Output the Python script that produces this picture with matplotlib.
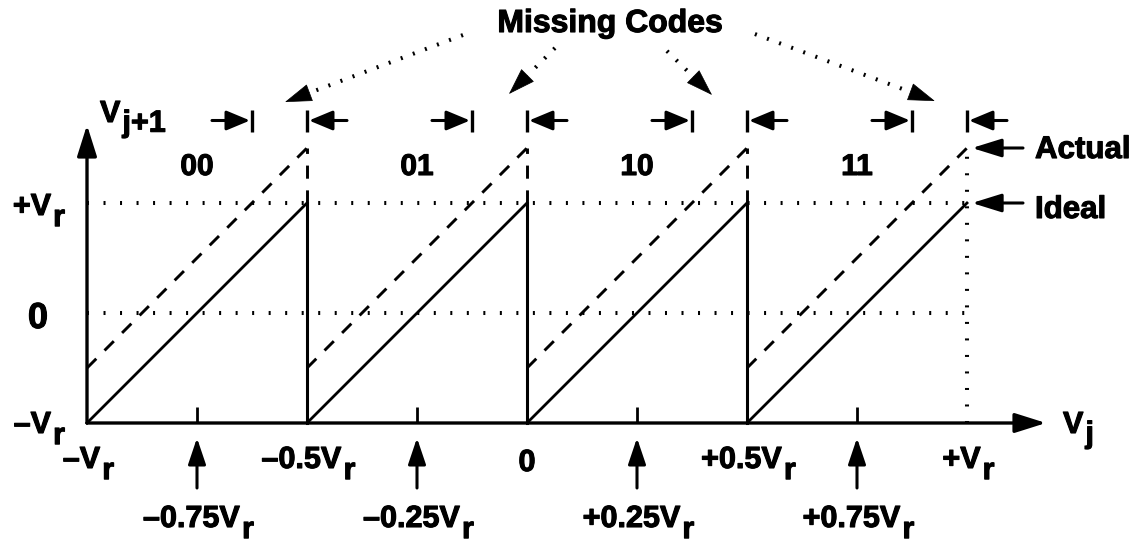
import math

import matplotlib
matplotlib.use("Agg")
import matplotlib.pyplot as plt
import matplotlib.patheffects as pe

# V_j segment boundaries (units of Vr) and the output code of each segment
edges = [-1.0, -0.5, 0.0, 0.5, 1.0]
codes = ["00", "01", "10", "11"]
# residue swing of the ideal stage and the offset of the actual stage
v_lo, v_hi = -1.0, 1.0
offset = 0.5
# segment midpoints, marked with arrows under the V_j axis
mids = [-0.75, -0.25, 0.25, 0.75]
mid_labels = ["\u20130.75V", "\u20130.25V", "+0.25V", "+0.75V"]
edge_labels = ["\u2013V", "\u20130.5V", "0", "+0.5V", "+V"]
edge_subs = ["r", "r", "", "r", "r"]

plt.rcParams["font.family"] = ["Liberation Sans", "DejaVu Sans"]
plt.rcParams["font.weight"] = "bold"

FS = 22
# slightly heavier glyphs than plain Liberation Sans Bold
HEAVY = [pe.withStroke(linewidth=0.8, foreground="black")]
# pixels per Vr along each axis
SX, SY = 440.0, 110.0

fig = plt.figure(figsize=(11.4, 5.45), dpi=100)
ax = fig.add_axes([0, 0, 1, 1])
ax.set_xlim(-1 - 87 / SX, -1 + 1053 / SX)
ax.set_ylim(-1 - 122 / SY, 1 + 203 / SY)
ax.axis("off")


def arrow(tail, tip, hl=0.8, hw=0.28, lw=2.2):
    ax.annotate("", xy=tip, xytext=tail,
                arrowprops=dict(arrowstyle=f"-|>,head_length={hl},head_width={hw}",
                                mutation_scale=20, lw=lw, color="black",
                                shrinkA=0, shrinkB=0))


def label(x, y, main, sub="", size=FS, ha="center", dx=0.0, drop=8.0):
    t = ax.annotate(main, (x, y), xytext=(dx, 0), textcoords="offset points",
                    ha=ha, va="baseline", fontsize=size, fontweight="bold",
                    path_effects=HEAVY)
    if sub:
        ax.annotate(sub, xy=(1, 0), xycoords=t, xytext=(1.5, -drop),
                    textcoords="offset points", ha="left", va="bottom",
                    fontsize=size, fontweight="bold", path_effects=HEAVY)


dots = dict(color="black", lw=2.9, dashes=(0.5, 3.6), dash_capstyle="butt", zorder=1)
dashed = dict(color="black", lw=2.1, dashes=(4.5, 4.0), dash_capstyle="butt")

# reference levels
ax.plot([v_lo, v_hi], [v_hi, v_hi], **dots)
ax.plot([v_lo, v_hi], [0, 0], **dots)
ax.plot([edges[-1], edges[-1]], [v_lo, v_hi + offset], **dots)

# axes
arrow((edges[0], v_lo), (edges[0], 1 + 78 / SY), hl=0.95, hw=0.3, lw=2.4)
arrow((edges[0], v_lo), (-1 + 959 / SX, v_lo), hl=0.95, hw=0.3, lw=2.4)

width = edges[1] - edges[0]
gap = offset * width / (v_hi - v_lo)
for i, code in enumerate(codes):
    e0, e1 = edges[i], edges[i + 1]
    # ideal and actual residue
    ax.plot([e0, e1], [v_lo, v_hi], color="black", lw=2.0)
    ax.plot([e0, e1], [v_lo + offset, v_hi + offset], **dashed)
    if i < len(codes) - 1:
        ax.plot([e1, e1], [v_lo, v_hi], color="black", lw=2.2)
        ax.plot([e1, e1], [v_hi, v_hi + offset], **dashed)
    label((e0 + e1) / 2, 1 + 28 / SY, code, size=21.5)

    # missing-code interval markers
    ym = 1.75
    for bx, side in ((e1 - gap, -1), (e1, 1)):
        ax.plot([bx, bx], [ym - 0.1, ym + 0.1], color="black", lw=2.4,
                solid_capstyle="butt")
        arrow((bx + side * 40 / SX, ym), (bx + side * 2 / SX, ym), hl=0.72, hw=0.3)

# quarter ticks with arrows and labels
for m, text in zip(mids, mid_labels):
    ax.plot([m, m], [v_lo, v_lo + 16 / SY], color="black", lw=2.0,
            solid_capstyle="butt")
    arrow((m, 1 - 285 / SY), (m, 1 - 235 / SY), hl=0.8, hw=0.27)
    label(m, 1 - 324 / SY, text, "r", dx=-4)

for e, text, sub in zip(edges, edge_labels, edge_subs):
    if sub:
        label(e, 1 - 265 / SY, text, sub, dx=-4)
    else:
        label(e, 1 - 268 / SY, text)

# y-axis labels
label(-1 - 36 / SX, 1 - 12 / SY, "+V", "r", ha="right")
label(-1 - 49 / SX, 1 - 125 / SY, "0", size=26)
label(-1 - 36 / SX, 1 - 230 / SY, "\u2013V", "r", ha="right")
label(-1 + 13 / SX, 1 + 81 / SY, "V", "j+1", ha="left", drop=7)
label(-1 + 976 / SX, 1 - 230 / SY, "V", "j", ha="left", drop=7)

# actual / ideal pointers
for lvl, name, base in ((v_hi + offset, "Actual", 1.409), (v_hi, "Ideal", 0.864)):
    arrow((v_hi + 56 / SX, lvl), (v_hi + 5 / SX, lvl), hl=0.9, hw=0.28)
    label(v_hi + 68 / SX, base, name, size=22.5, ha="left")

# "Missing Codes" with dotted leaders to each gap
label(-1 + 523 / SX, 1 + 171 / SY, "Missing Codes", size=23)
tails = [(-0.1455, 2.527), (0.0636, 2.409), (0.318, 2.382), (0.518, 2.536)]
tips = [(-0.55, 1.918), (-0.041, 1.991), (0.4205, 1.982), (0.927, 1.927)]
for tail, tip in zip(tails, tips):
    dxp = (tail[0] - tip[0]) * SX
    dyp = (tail[1] - tip[1]) * SY
    length = math.hypot(dxp, dyp)

    def back(px):
        f = px / length
        return (tip[0] + f * (tail[0] - tip[0]), tip[1] + f * (tail[1] - tip[1]))

    end = back(31)
    ax.plot([tail[0], end[0]], [tail[1], end[1]], color="black", lw=2.9,
            dashes=(0.5, 2.7), dash_capstyle="butt")
    arrow(back(26), tip, hl=0.9, hw=0.3, lw=0.5)

fig.savefig("out.png", dpi=100)
